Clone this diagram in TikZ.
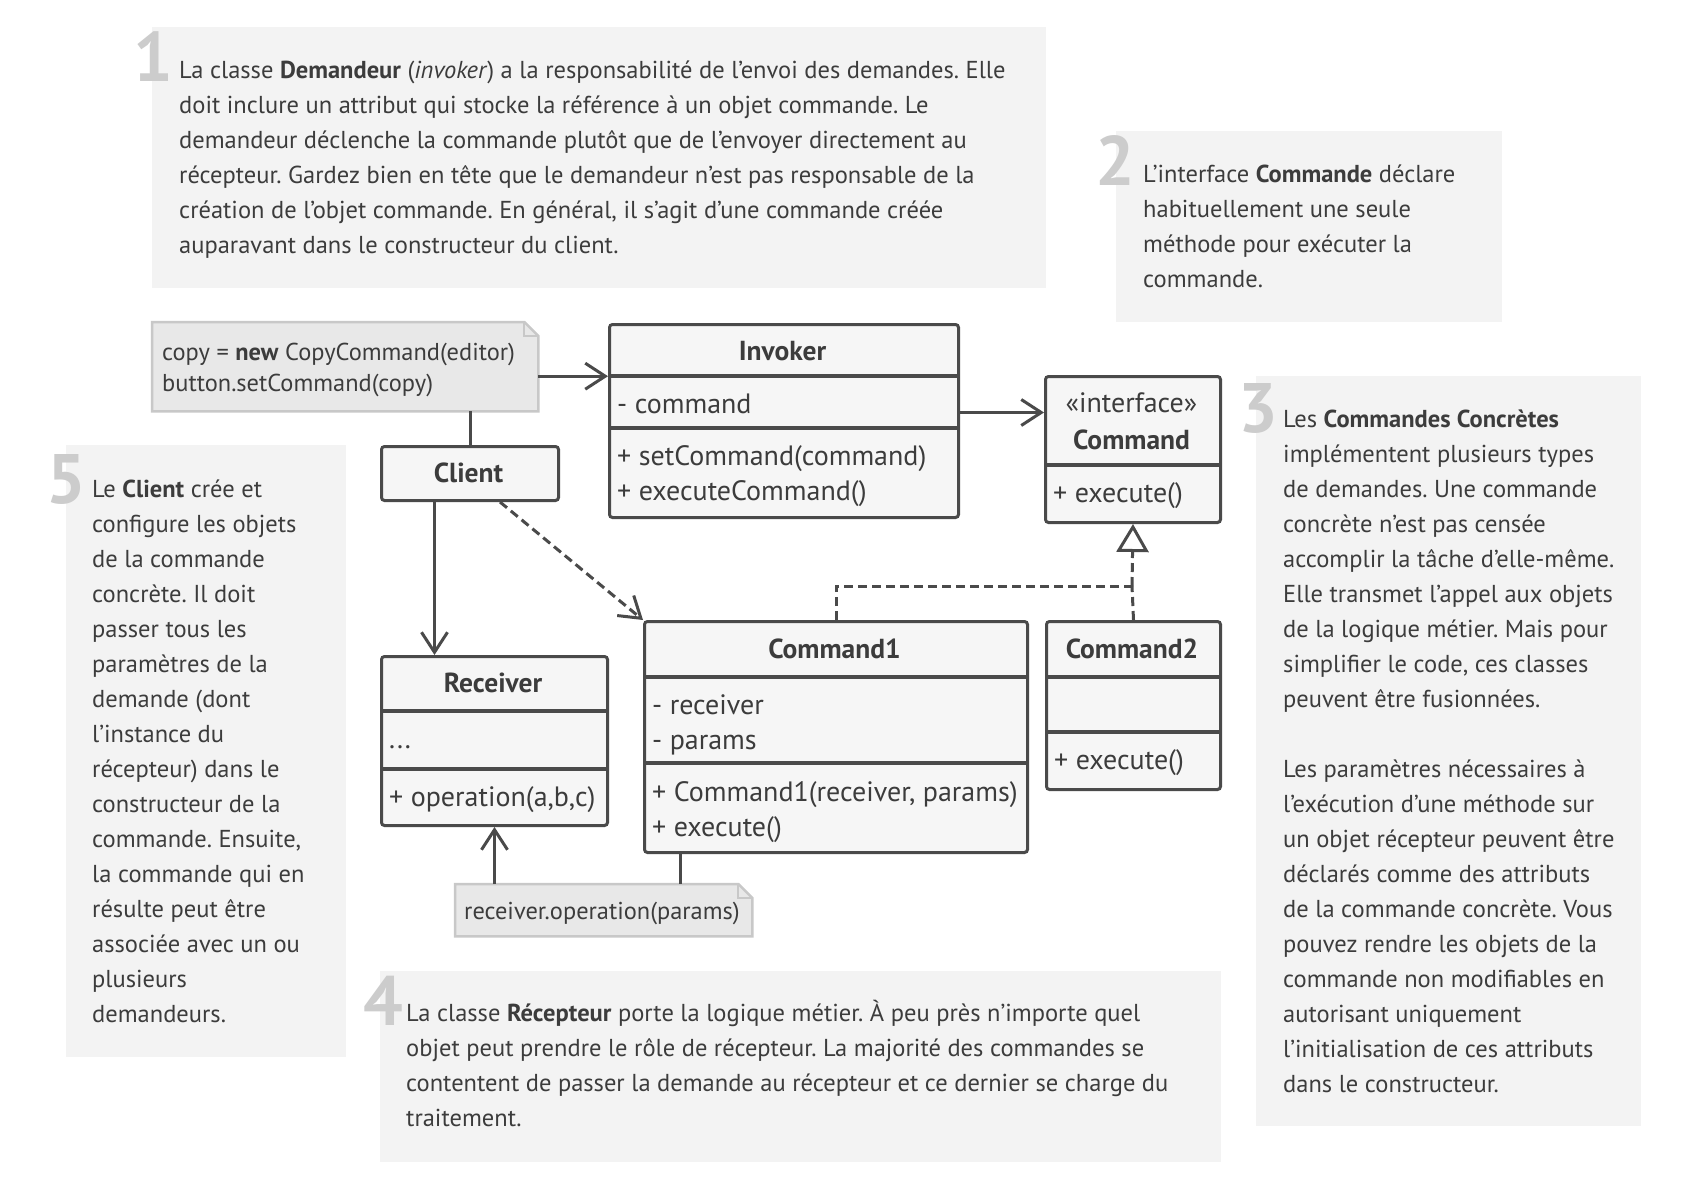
\documentclass[tikz,border=0pt]{standalone}
\usepackage{fontspec}
\setmainfont{PT Sans}
\usetikzlibrary{arrows.meta}
\definecolor{boxbg}{HTML}{F3F3F3}
\definecolor{numc}{HTML}{CCCCCC}
\definecolor{txt}{HTML}{3C3C3C}
\definecolor{linec}{HTML}{4A4A4A}
\definecolor{classbg}{HTML}{F6F6F6}
\definecolor{notebg}{HTML}{E8E8E8}
\definecolor{noteln}{HTML}{C8C8C8}
\frenchspacing
\begin{document}
\begin{tikzpicture}[x=1pt,y=-1pt,
  bgbox/.style={fill=boxbg,draw=none,inner sep=0pt,anchor=north west},
  desc/.style={text=txt,align=left,inner sep=0pt,anchor=base west,font=\fontsize{24.5}{35}\selectfont},
  num/.style={text=numc,inner sep=0pt,anchor=base east,font=\fontsize{70}{70}\selectfont\bfseries},
  cls/.style={draw=linec,fill=classbg,line width=3pt,rounded corners=3pt,inner sep=0pt,anchor=north west},
  divline/.style={draw=linec,line width=4pt},
  ctitle/.style={text=txt,inner sep=0pt,anchor=base,font=\fontsize{27.5}{30}\selectfont\bfseries},
  ctext/.style={text=txt,inner sep=0pt,anchor=base west,font=\fontsize{28}{30}\selectfont},
  note/.style={inner sep=0pt,anchor=north west},
  notedraw/.style={fill=notebg,draw=noteln,line width=2.5pt,line join=miter},
  ntext/.style={text=txt,inner sep=0pt,anchor=base west,font=\fontsize{24.4}{30}\selectfont},
  conn/.style={draw=linec,line width=3pt},
  arr/.style={conn,-{Straight Barb[length=20pt,width=26pt,line width=3pt]}},
  dconn/.style={conn,dash pattern=on 9pt off 5pt},
]
\useasboundingbox[fill=white] (0,0) rectangle (1695,1186);

% ---------- description boxes ----------
\node[bgbox,minimum width=894pt,minimum height=261pt] (b1) at (152,27) {};
\node[num] (n1num) at (173,81) {1};
\node[desc] (t1) at (179,253) {La classe \textbf{Demandeur} (\textit{invoker}) a la responsabilité de l’envoi des demandes. Elle\\
doit inclure un attribut qui stocke la référence à un objet commande. Le\\
demandeur déclenche la commande plutôt que de l’envoyer directement au\\
récepteur. Gardez bien en tête que le demandeur n’est pas responsable de la\\
création de l’objet commande. En général, il s’agit d’une commande créée\\
auparavant dans le constructeur du client.};

\node[bgbox,minimum width=386pt,minimum height=191pt] (b2) at (1116,131) {};
\node[num] (n2num) at (1135,185) {2};
\node[desc] (t2) at (1143,287) {L’interface \textbf{Commande} déclare\\
habituellement une seule\\
méthode pour exécuter la\\
commande.};

\node[bgbox,minimum width=385pt,minimum height=750pt] (b3) at (1256,376) {};
\node[num] (n3num) at (1278,432) {3};
\node[desc] (t3) at (1283,1092) {Les \textbf{Commandes Concrètes}\\
implémentent plusieurs types\\
de demandes. Une commande\\
concrète n’est pas censée\\
accomplir la tâche d’elle-même.\\
Elle transmet l’appel aux objets\\
de la logique métier. Mais pour\\
simplifier le code, ces classes\\
peuvent être fusionnées.\\[35pt]
Les paramètres nécessaires à\\
l’exécution d’une méthode sur\\
un objet récepteur peuvent être\\
déclarés comme des attributs\\
de la commande concrète. Vous\\
pouvez rendre les objets de la\\
commande non modifiables en\\
autorisant uniquement\\
l’initialisation de ces attributs\\
dans le constructeur.};

\node[bgbox,minimum width=841pt,minimum height=191pt] (b4) at (380,971) {};
\node[num] (n4num) at (403,1025) {4};
\node[desc] (t4) at (406,1126) {La classe \textbf{Récepteur} porte la logique métier. À peu près n’importe quel\\
objet peut prendre le rôle de récepteur. La majorité des commandes se\\
contentent de passer la demande au récepteur et ce dernier se charge du\\
traitement.};

\node[bgbox,minimum width=280pt,minimum height=612pt] (b5) at (66,445) {};
\node[num] (n5num) at (86,503) {5};
\node[desc] (t5) at (92,1022) {Le \textbf{Client} crée et\\
configure les objets\\
de la commande\\
concrète. Il doit\\
passer tous les\\
paramètres de la\\
demande (dont\\
l’instance du\\
récepteur) dans le\\
constructeur de la\\
commande. Ensuite,\\
la commande qui en\\
résulte peut être\\
associée avec un ou\\
plusieurs\\
demandeurs.};

% ---------- notes ----------
\node[note,minimum width=386pt,minimum height=89pt] (nt1) at (152,322) {};
\draw[notedraw] (nt1.north west) -- ([xshift=-14pt]nt1.north east) -- ([yshift=-14pt]nt1.north east) -- (nt1.south east) -- (nt1.south west) -- cycle;
\draw[draw=noteln,line width=2pt] ([xshift=-14pt]nt1.north east) -- ([xshift=-14pt,yshift=-14pt]nt1.north east) -- ([yshift=-14pt]nt1.north east);
\node[ntext] (nt1a) at (162,360) {copy = \textbf{new} CopyCommand(editor)};
\node[ntext] (nt1b) at (162,391) {button.setCommand(copy)};

\node[note,minimum width=297pt,minimum height=52pt] (nt2) at (455,884) {};
\draw[notedraw] (nt2.north west) -- ([xshift=-14pt]nt2.north east) -- ([yshift=-14pt]nt2.north east) -- (nt2.south east) -- (nt2.south west) -- cycle;
\draw[draw=noteln,line width=2pt] ([xshift=-14pt]nt2.north east) -- ([xshift=-14pt,yshift=-14pt]nt2.north east) -- ([yshift=-14pt]nt2.north east);
\node[ntext] (nt2a) at (464,919) {receiver.operation(params)};

% ---------- classes ----------
\node[cls,minimum width=349pt,minimum height=193pt] (inv) at (608,323) {};
\draw[divline] (608,376) -- (957,376);
\draw[divline] (608,428) -- (957,428);
\node[ctitle] (invt) at (782.5,360) {Invoker};
\node[ctext] (inva) at (617,413) {- command};
\node[ctext] (invm1) at (617,465) {+ setCommand(command)};
\node[ctext] (invm2) at (617,500) {+ executeCommand()};

\node[cls,minimum width=175pt,minimum height=146pt] (ifc) at (1044,375) {};
\draw[divline] (1044,465) -- (1219,465);
\node[ctext,anchor=base] (ifca) at (1131.5,412) {«interface»};
\node[ctitle] (ifct) at (1131.5,449) {Command};
\node[ctext] (ifcm) at (1053,502) {+ execute()};

\node[cls,minimum width=177pt,minimum height=54pt] (cl) at (380,445) {};
\node[ctitle] (clt) at (468.5,482) {Client};

\node[cls,minimum width=226pt,minimum height=169pt] (rec) at (380,655) {};
\draw[divline] (380,711) -- (606,711);
\draw[divline] (380,769) -- (606,769);
\node[ctitle] (rect) at (493,692) {Receiver};
\node[ctext] (reca) at (389,748) {...};
\node[ctext] (recm) at (389,806) {+ operation(a,b,c)};

\node[cls,minimum width=383pt,minimum height=231pt] (c1) at (643,620) {};
\draw[divline] (643,677) -- (1026,677);
\draw[divline] (643,763) -- (1026,763);
\node[ctitle] (c1t) at (834.5,658) {Command1};
\node[ctext] (c1a) at (652,714) {- receiver};
\node[ctext] (c1b) at (652,749) {- params};
\node[ctext] (c1m1) at (652,801) {+ Command1(receiver, params)};
\node[ctext] (c1m2) at (652,836) {+ execute()};

\node[cls,minimum width=174pt,minimum height=168pt] (c2) at (1045,620) {};
\draw[divline] (1045,677) -- (1219,677);
\draw[divline] (1045,732) -- (1219,732);
\node[ctitle] (c2t) at (1132,658) {Command2};
\node[ctext] (c2m) at (1054,769) {+ execute()};

% ---------- connectors ----------
\draw[arr] ([yshift=-9.5pt]nt1.east) -- ([yshift=-9.5pt]nt1.east -| inv.west);
\draw[conn] (nt1.south -| cl.north) -- (cl.north);
\draw[arr] ([yshift=8.5pt]inv.east) -- ([yshift=8.5pt]inv.east -| ifc.west);
\draw[arr] ([xshift=-35.5pt]cl.south) -- ([xshift=-35.5pt]cl.south |- rec.north);
\draw[dconn,-{Straight Barb[length=20pt,width=26pt,line width=3pt]}] ([xshift=30pt]cl.south) -- (c1.north west);
\coordinate (j) at (1132,586);
\draw[dconn] (c1.north) |- (j);
\draw[dconn] (c2.north) -- (j);
\draw[dconn,-{Triangle[open,length=28pt,width=32pt,line width=3pt]}] (j) -- (ifc.south);
\draw[conn] ([xshift=-155.5pt]c1.south) -- ([xshift=-155.5pt]c1.south |- nt2.north);
\draw[arr] (nt2.north -| rec.south) -- (rec.south);
\end{tikzpicture}
\end{document}
